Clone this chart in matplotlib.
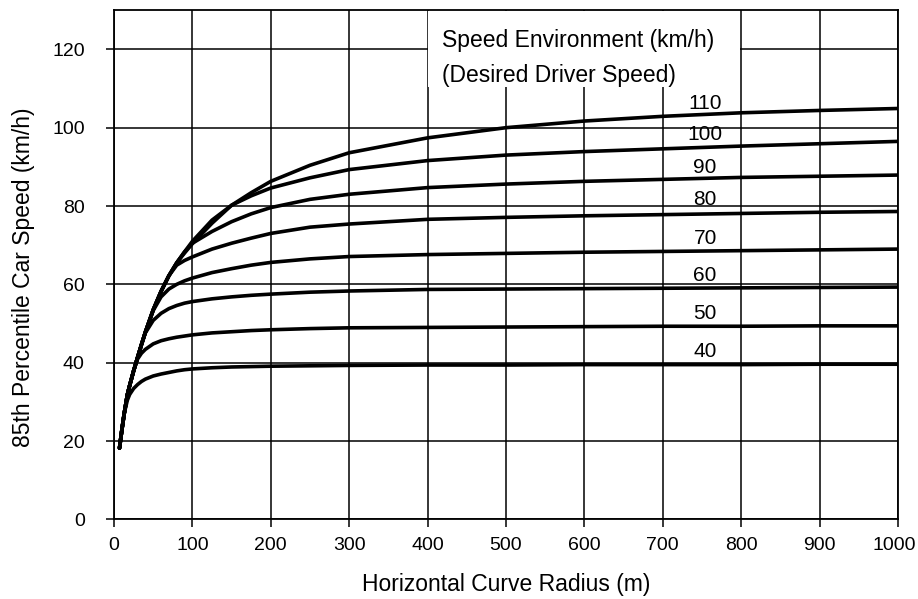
import numpy as np
import matplotlib.pyplot as plt
import matplotlib.transforms as mtransforms
from matplotlib.patches import Rectangle

plt.rcParams['font.family'] = ['Liberation Sans', 'DejaVu Sans']

# horizontal curve radius (m)
radius = [7, 10, 13, 17, 20, 25, 30, 35, 40, 50, 60, 70, 80, 90, 100,
          125, 150, 175, 200, 250, 300, 400, 500, 600, 700, 800, 900, 1000]

# 85th percentile car speed (km/h) for each speed environment
speed_40 = [18.2, 22.8, 27.0, 30.4, 31.9, 33.4, 34.4, 35.2, 35.8, 36.6, 37.1, 37.5, 37.9, 38.2, 38.4,
            38.7, 38.9, 39.0, 39.1, 39.2, 39.3, 39.4, 39.4, 39.5, 39.5, 39.5, 39.6, 39.6]
speed_50 = [18.2, 22.8, 27.0, 31.8, 34.2, 37.9, 40.9, 42.4, 43.4, 44.8, 45.6, 46.1, 46.5, 46.8, 47.1,
            47.6, 47.9, 48.2, 48.4, 48.7, 48.9, 49.0, 49.1, 49.2, 49.3, 49.3, 49.4, 49.4]
speed_60 = [18.2, 22.8, 27.0, 31.8, 34.2, 37.9, 41.3, 44.6, 47.6, 50.8, 52.6, 53.8, 54.6, 55.2, 55.6,
            56.3, 56.8, 57.2, 57.5, 58.0, 58.3, 58.7, 58.8, 58.9, 59.0, 59.1, 59.2, 59.3]
speed_70 = [18.2, 22.8, 27.0, 31.8, 34.2, 37.9, 41.3, 44.6, 47.8, 53.3, 56.8, 58.8, 60.0, 60.9, 61.6,
            63.0, 64.0, 64.9, 65.6, 66.5, 67.1, 67.6, 67.9, 68.2, 68.4, 68.6, 68.8, 69.0]
speed_80 = [18.2, 22.8, 27.0, 31.8, 34.2, 37.9, 41.3, 44.6, 47.8, 53.5, 58.2, 62.2, 64.9, 66.1, 67.0,
            69.0, 70.5, 71.8, 73.0, 74.6, 75.4, 76.6, 77.1, 77.5, 77.8, 78.1, 78.4, 78.6]
speed_90 = [18.2, 22.8, 27.0, 31.8, 34.2, 37.9, 41.3, 44.6, 47.8, 53.5, 58.2, 62.2, 65.5, 68.3, 70.5,
            73.5, 76.0, 78.0, 79.6, 81.7, 83.0, 84.7, 85.6, 86.3, 86.8, 87.3, 87.6, 87.9]
speed_100 = [18.2, 22.8, 27.0, 31.8, 34.2, 37.9, 41.3, 44.6, 47.8, 53.5, 58.2, 62.2, 65.5, 68.3, 71.0,
             76.4, 80.2, 82.6, 84.6, 87.2, 89.3, 91.6, 93.0, 93.9, 94.6, 95.3, 95.9, 96.5]
speed_110 = [18.2, 22.8, 27.0, 31.8, 34.2, 37.9, 41.3, 44.6, 47.8, 53.5, 58.2, 62.2, 65.5, 68.0, 70.4,
             75.6, 80.2, 83.4, 86.3, 90.4, 93.6, 97.4, 100.0, 101.7, 102.9, 103.8, 104.4, 104.9]

curves = [speed_40, speed_50, speed_60, speed_70, speed_80, speed_90, speed_100, speed_110]
curve_names = ["40", "50", "60", "70", "80", "90", "100", "110"]
name_y = [42.9, 52.6, 62.3, 71.7, 81.7, 89.8, 98.3, 106.1]
name_x = 754

fig = plt.figure(figsize=(9.18, 5.99), dpi=100)
ax = fig.add_axes([0.1242, 0.133, 0.854, 0.850])

for speeds in curves:
    ax.plot(radius, speeds, color="black", lw=2.6, solid_joinstyle="round",
            solid_capstyle="round", zorder=3)

for name, y in zip(curve_names, name_y):
    ax.text(name_x, y, name, ha="center", va="center", fontsize=15, zorder=4)

# white panel behind the legend text
ax.add_patch(Rectangle((401, 110.3), 398, 19.4, facecolor="white", edgecolor="none", zorder=1))
ax.text(418, 120.6, "Speed Environment (km/h)", fontsize=16.5, va="baseline", zorder=4)
ax.text(418, 111.6, "(Desired Driver Speed)", fontsize=16.5, va="baseline", zorder=4)

ax.set_xlim(0, 1000)
ax.set_ylim(0, 130)
ax.set_xticks(np.arange(0, 1001, 100))
ax.set_yticks(np.arange(0, 121, 20))
ax.set_axisbelow(True)
ax.grid(True, color="black", lw=1.1)
ax.tick_params(direction="out", length=6, width=1.1, labelsize=14)
ax.tick_params(axis="y", pad=15)
ax.tick_params(axis="x", pad=7)
for s in ax.spines.values():
    s.set_linewidth(1.3)

# keep the "1000" label inside the canvas
last = ax.get_xticklabels()[-1]
last.set_transform(last.get_transform() + mtransforms.ScaledTranslation(-4 / 100, 0, fig.dpi_scale_trans))

fig.text(0.551, 0.0234, "Horizontal Curve Radius (m)", ha="center", va="center", fontsize=16.5)
fig.text(0.026, 0.5376, "85th Percentile Car Speed (km/h)", ha="center", va="center",
         rotation=90, fontsize=16.5)

fig.savefig("out.png", dpi=100)
